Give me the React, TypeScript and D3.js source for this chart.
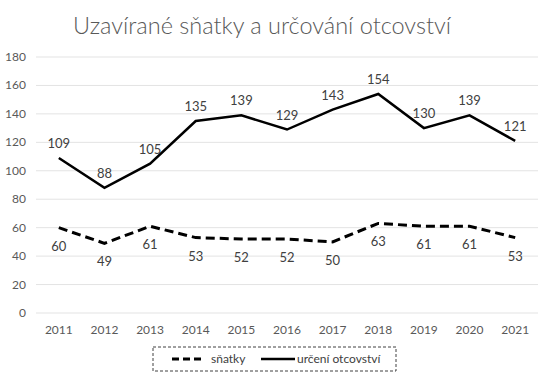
import React from "react";
import * as d3 from "d3";

const years = ["2011","2012","2013","2014","2015","2016","2017","2018","2019","2020","2021"];
const snatky = [60, 49, 61, 53, 52, 52, 50, 63, 61, 61, 53];
const otcovstvi = [109, 88, 105, 135, 139, 129, 143, 154, 130, 139, 121];
const yTicks = [0, 20, 40, 60, 80, 100, 120, 140, 160, 180];
const title = "Uzavírané sňatky a určování otcovství";
const legendLabels = ["sňatky", "určení otcovství"];

const W = 550, H = 375;
const font = "Lato, 'Open Sans', sans-serif";

export default function App() {
  const x = d3.scaleBand<string>().domain(years).range([36, 538]);
  const y = d3.scaleLinear().domain([0, 180]).range([313, 57]);
  const cx = (d: string) => (x(d) ?? 0) + x.bandwidth() / 2;
  const line = d3.line<number>().x((_, i) => cx(years[i])).y((v) => y(v));
  return (
    <svg width={W} height={H} style={{ position: "absolute", left: 0, top: 0, background: "#fff" }}>
      <text x={262} y={34} textAnchor="middle" fontFamily={font} fontWeight={300} fontSize={23.5} fill="#595959">{title}</text>
      {yTicks.map((t) => (
        <g key={t}>
          <line x1={36} x2={538} y1={y(t)} y2={y(t)} stroke="#e3e3e3" strokeWidth={1} />
          <text x={26} y={y(t) + 4} textAnchor="end" fontFamily={font} fontSize={12} fill="#595959">{t}</text>
        </g>
      ))}
      {years.map((yr) => (
        <text key={yr} x={cx(yr)} y={334} textAnchor="middle" fontFamily={font} fontSize={12} fill="#595959">{yr}</text>
      ))}
      <path d={line(otcovstvi) ?? ""} fill="none" stroke="#000" strokeWidth={2.5} strokeLinejoin="miter" />
      <path d={line(snatky) ?? ""} fill="none" stroke="#000" strokeWidth={3} strokeDasharray="9,5" />
      {otcovstvi.map((v, i) => (
        <text key={"o" + i} x={cx(years[i])} y={y(v) - 10} textAnchor="middle" fontFamily={font} fontSize={13} fill="#404040">{v}</text>
      ))}
      {snatky.map((v, i) => (
        <text key={"s" + i} x={cx(years[i])} y={y(v) + 23} textAnchor="middle" fontFamily={font} fontSize={13} fill="#404040">{v}</text>
      ))}
      <rect x={153} y={347} width={243} height={24} fill="none" stroke="#404040" strokeWidth={1} strokeDasharray="3,2" />
      <line x1={172} x2={205} y1={359} y2={359} stroke="#000" strokeWidth={3} strokeDasharray="7,4" />
      <text x={211} y={363} fontFamily={font} fontSize={12} fill="#404040">{legendLabels[0]}</text>
      <line x1={261} x2={295} y1={359} y2={359} stroke="#000" strokeWidth={2.5} />
      <text x={297} y={363} fontFamily={font} fontSize={12} fill="#404040">{legendLabels[1]}</text>
    </svg>
  );
}
